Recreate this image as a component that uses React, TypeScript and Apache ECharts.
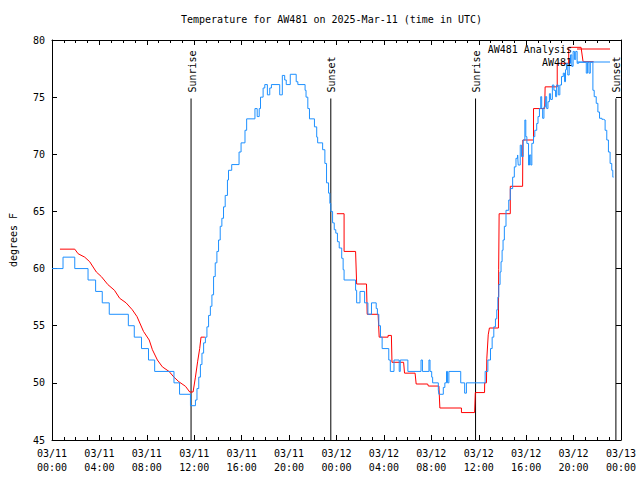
import React, { useEffect, useRef } from "react";
import * as echarts from "echarts";

const TITLE = "Temperature for AW481 on 2025-Mar-11 (time in UTC)";
const Y_NAME = "degrees F";
const ANA_NAME = "AW481 Analysis";
const OBS_NAME = "AW481";
const FONT = "DejaVu Sans Mono";

const X_MIN = 0;
const X_MAX = 48;
const X_STEP = 4;
const Y_MIN = 45;
const Y_MAX = 80;
const Y_STEP = 5;

const X_TICK_LABELS = [
  "03/11\n00:00", "03/11\n04:00", "03/11\n08:00", "03/11\n12:00", "03/11\n16:00", "03/11\n20:00",
  "03/12\n00:00", "03/12\n04:00", "03/12\n08:00", "03/12\n12:00", "03/12\n16:00", "03/12\n20:00",
  "03/13\n00:00",
];

// Observations (hours since 03/11 00:00 UTC, degrees F), drawn as a step line
const obsHours = [
  0, 0.93, 1.92, 3.04, 3.68, 4.24, 4.83, 6.44, 6.94, 7.55, 8.14, 8.66, 10.29, 10.76, 11.68,
  12.10, 12.23, 12.38, 12.52, 12.65, 12.79, 12.94, 13.07, 13.21, 13.36, 13.49, 13.63, 13.77, 13.91,
  14.05, 14.19, 14.33, 14.47, 14.61, 14.80, 14.89, 15.16, 15.78, 15.95, 16.28, 16.42, 17.12, 17.31,
  17.48, 17.59, 17.81, 17.95, 18.17, 18.37, 18.51, 19.21, 19.43, 19.63, 19.76, 20.10, 20.60, 20.74,
  21.35, 21.43, 21.58, 21.72, 22.14, 22.33, 22.41, 22.83, 23.02, 23.16, 23.33, 23.44, 23.52, 23.67,
  23.81, 23.94, 24.08, 24.23, 24.44, 24.56, 24.64, 25.61, 25.70, 25.98, 26.37, 26.65, 26.95, 27.35,
  27.45, 27.57, 27.71, 27.85, 28.41, 28.54, 28.85, 29.29, 29.38, 30.02, 31.13, 31.25, 31.80, 31.89,
  32.03, 32.11, 32.59, 32.64, 33.01, 33.14, 33.28, 33.37, 33.48, 34.48, 34.81, 34.96, 36.54, 36.77,
  36.99, 37.13, 37.27, 37.41, 37.52, 37.61, 37.69, 37.80, 37.88, 37.97, 38.05, 38.16, 38.30, 38.53,
  38.66, 38.86, 39.00, 39.14, 39.28, 39.33, 39.50, 39.61, 39.75, 39.89, 39.97, 40.06, 40.20, 40.28,
  40.39, 40.48, 40.62, 40.73, 40.89, 41.00, 41.12, 41.23, 41.31, 41.39, 41.50, 41.62, 41.73, 41.84,
  41.96, 42.06, 42.21, 42.34, 42.48, 42.57, 42.71, 42.84, 42.98, 43.13, 43.24, 43.32, 43.40, 43.51,
  43.63, 43.74, 43.85, 43.96, 44.07, 44.18, 44.30, 44.43, 45.07, 45.18, 45.30, 45.41, 45.63, 45.74,
  45.91, 46.05, 46.19, 46.39, 46.52, 46.66, 46.80, 46.94, 47.08, 47.22, 47.31, 47.37,
];
const obsTemps = [
  60, 61, 60, 59, 58, 57, 56, 55, 54, 53, 52, 51, 50, 49, 48,
  48.5, 49.5, 50.5, 51.6, 52.6, 53.5, 54.0, 54.9, 55.9, 56.7, 57.7, 59.3, 60.5, 61.5,
  62.5, 63.7, 64.4, 65.4, 66.4, 67.75, 68.6, 69.1, 70.2, 71.0, 72.1, 73.1, 74.0, 73.3,
  74.0, 75.0, 75.8, 76.1, 75.2, 75.8, 76.1, 75.2, 76.9, 76.5, 76.1, 77.0, 76.35, 76.1,
  75.6, 75.0, 74.0, 73.1, 72.4, 71.5, 71.0, 70.4, 69.2, 67.5, 66.6, 65.7, 65.0, 64.0,
  63.4, 63.1, 62.35, 61.8, 60.9, 59.9, 59.0, 58.1, 57.0, 58.0, 57.0, 56.0, 57.0, 56.5,
  56.0, 55.0, 54.0, 53.0, 52.0, 51.0, 52.0, 51.0, 52.0, 51.0, 52.0, 51.0, 52.0, 51.0,
  50.5, 50.0, 49.4, 49.0, 49.6, 50.0, 51.0, 50.0, 51.0, 50.0, 49.1, 50.0, 51.0, 52.0,
  53.0, 54.0, 54.9, 55.6, 56.4, 57.5, 58.6, 59.7, 60.6, 61.6, 62.5, 63.7, 65.1, 66.0,
  67.0, 68.0, 68.9, 69.65, 69.94, 69.06, 70.8, 69.8, 71.25, 73.0, 71.54, 70.95, 69.06, 69.94,
  69.06, 70.96, 71.54, 72.1, 72.7, 73.3, 74.0, 75.04, 74.0, 73.15, 74.15, 75.04, 74.0, 74.6,
  75.3, 74.8, 76.06, 75.6, 75.04, 76.06, 75.2, 76.06, 76.8, 77.1, 76.35, 77.4, 77.96, 76.94,
  77.96, 78.7, 77.7, 79.0, 78.3, 79.0, 77.96, 78.05, 77.1, 78.05, 77.1, 78.05, 75.6, 75.04,
  74.46, 73.7, 73.15, 73.06, 73.0, 72.1, 71.25, 70.2, 69.2, 68.6, 68.0, 68.0,
];

// Analysis (hours, degrees F); null marks the gap in the analysis
const anaHours = [
  0.67, 1.92, 2.20, 2.76, 3.18, 3.74, 4.16, 4.71, 5.27, 5.71, 6.25, 6.77, 7.17, 7.72, 8.20, 8.47,
  8.89, 9.31, 9.87, 10.29, 10.70, 11.26, 11.62, 11.90, 12.10, 12.29, 12.46, 12.57, 12.90,
  18.0,
  24.03, 24.64, 24.64, 25.61, 25.70, 26.53, 26.59, 27.51, 27.60, 28.35, 28.35, 28.63, 28.68, 29.66,
  29.74, 30.63, 30.72, 31.69, 31.75, 32.64, 32.72, 34.54, 34.54, 35.65, 35.71, 36.49, 36.50, 36.65,
  36.68, 36.80, 36.90, 37.66, 37.68, 37.72, 38.66, 38.66, 39.70, 39.72, 40.62, 40.62, 41.56, 41.60,
  42.62, 42.62, 43.59, 43.59, 44.63, 44.80, 45.69,
];
const anaTemps = [
  61.7, 61.7, 61.3, 61.0, 60.6, 59.7, 59.3, 58.6, 58.1, 57.4, 57.0, 56.4, 55.8, 54.5, 53.75, 52.9,
  52.0, 51.4, 51.0, 50.5, 50.1, 49.7, 49.2, 49.2, 50.5, 51.9, 53.0, 54.0, 54.0,
  null,
  64.8, 64.8, 61.5, 61.5, 58.65, 58.65, 56.0, 56.0, 54.0, 54.0, 54.15, 54.15, 51.8, 51.8,
  50.85, 50.85, 49.9, 49.9, 49.72, 49.72, 47.8, 47.8, 47.4, 47.4, 49.15, 49.15, 50.0, 50.0,
  52.1, 54.2, 54.8, 54.8, 59.9, 64.8, 64.8, 67.2, 67.2, 71.25, 71.25, 74.0, 74.0, 75.9,
  75.9, 77.96, 77.96, 79.36, 79.36, 78.1, 78.1,
];

const sunHours = [11.73, 23.52, 35.73, 47.57];
const sunLabels = ["Sunrise", "Sunset", "Sunrise", "Sunset"];
const SUN_LINE_TOP = 74.88;

export default function App() {
  const ref = useRef<HTMLDivElement>(null);

  useEffect(() => {
    if (!ref.current) return;
    const chart = echarts.init(ref.current, null, { renderer: "svg" });

    const obsData = obsHours.map((h, i) => [h, obsTemps[i]]);
    const anaData = anaHours.map((h, i) => [h, anaTemps[i] === null ? "-" : anaTemps[i]]);
    const sunData = sunHours.map((h, i) => [h, i]);

    const tickStyle = { color: "#000", width: 1 };
    const textBase = { fontFamily: FONT, fontSize: 10, color: "#000" };

    const xCommon = {
      type: "value" as const,
      min: X_MIN,
      max: X_MAX,
      interval: X_STEP,
      splitLine: { show: false },
      axisLine: { show: true, onZero: false, lineStyle: tickStyle },
      axisTick: { show: true, inside: true, length: 5, lineStyle: tickStyle },
      minorTick: { show: true, splitNumber: 4, length: 3, lineStyle: tickStyle },
      minorSplitLine: { show: false },
    };
    const yCommon = {
      type: "value" as const,
      min: Y_MIN,
      max: Y_MAX,
      interval: Y_STEP,
      splitLine: { show: false },
      axisLine: { show: true, onZero: false, lineStyle: tickStyle },
      axisTick: { show: true, inside: true, length: 5, lineStyle: tickStyle },
    };

    chart.setOption({
      animation: false,
      backgroundColor: "#fff",
      title: {
        text: TITLE,
        left: 181,
        top: 14,
        padding: 0,
        textStyle: { ...textBase, fontWeight: "normal" },
      },
      legend: {
        data: [ANA_NAME, OBS_NAME],
        orient: "vertical",
        right: 30,
        top: 43,
        align: "right",
        icon: "rect",
        itemWidth: 33,
        itemHeight: 1,
        itemGap: 1,
        padding: 0,
        selectedMode: false,
        textStyle: { ...textBase, lineHeight: 12 },
      },
      grid: { left: 47, right: 19, top: 40, bottom: 40, containLabel: false },
      xAxis: [
        {
          ...xCommon,
          position: "bottom",
          axisLabel: {
            ...textBase,
            lineHeight: 14,
            margin: 6,
            showMinLabel: true,
            showMaxLabel: true,
            formatter: (v: number) => X_TICK_LABELS[Math.round((v - X_MIN) / X_STEP)] ?? "",
          },
        },
        { ...xCommon, position: "top", axisLabel: { show: false } },
      ],
      yAxis: [
        {
          ...yCommon,
          position: "left",
          name: Y_NAME,
          nameLocation: "middle",
          nameGap: 34,
          nameRotate: 90,
          nameTextStyle: { ...textBase },
          axisLabel: { ...textBase, margin: 7, showMinLabel: true, showMaxLabel: true },
        },
        { ...yCommon, position: "right", axisLabel: { show: false } },
      ],
      series: [
        {
          type: "custom",
          name: "sun",
          xAxisIndex: 0,
          yAxisIndex: 0,
          silent: true,
          data: sunData,
          encode: { x: 0, y: 1 },
          renderItem: (_params: any, api: any) => {
            const h = api.value(0);
            const idx = api.value(1);
            const top = api.coord([h, SUN_LINE_TOP]);
            const bot = api.coord([h, Y_MIN]);
            return {
              type: "group",
              children: [
                {
                  type: "line",
                  shape: { x1: top[0], y1: top[1], x2: bot[0], y2: bot[1] },
                  style: { stroke: "#000", lineWidth: 1 },
                },
                {
                  type: "text",
                  x: top[0] + 1,
                  y: top[1] - 6,
                  rotation: Math.PI / 2,
                  style: {
                    text: sunLabels[idx],
                    fill: "#000",
                    fontFamily: FONT,
                    fontSize: 10,
                    align: "left",
                    verticalAlign: "middle",
                  },
                },
              ],
            };
          },
        },
        {
          type: "line",
          name: ANA_NAME,
          xAxisIndex: 0,
          yAxisIndex: 0,
          data: anaData,
          symbol: "none",
          showSymbol: false,
          connectNulls: false,
          color: "#ff0000",
          lineStyle: { color: "#ff0000", width: 1 },
        },
        {
          type: "line",
          name: OBS_NAME,
          xAxisIndex: 0,
          yAxisIndex: 0,
          data: obsData,
          step: "end",
          symbol: "none",
          showSymbol: false,
          color: "#1e90ff",
          lineStyle: { color: "#1e90ff", width: 1 },
        },
      ],
    });

    return () => chart.dispose();
  }, []);

  return (
    <div
      ref={ref}
      style={{ position: "absolute", left: 0, top: 0, width: 640, height: 480, background: "#fff" }}
    />
  );
}
